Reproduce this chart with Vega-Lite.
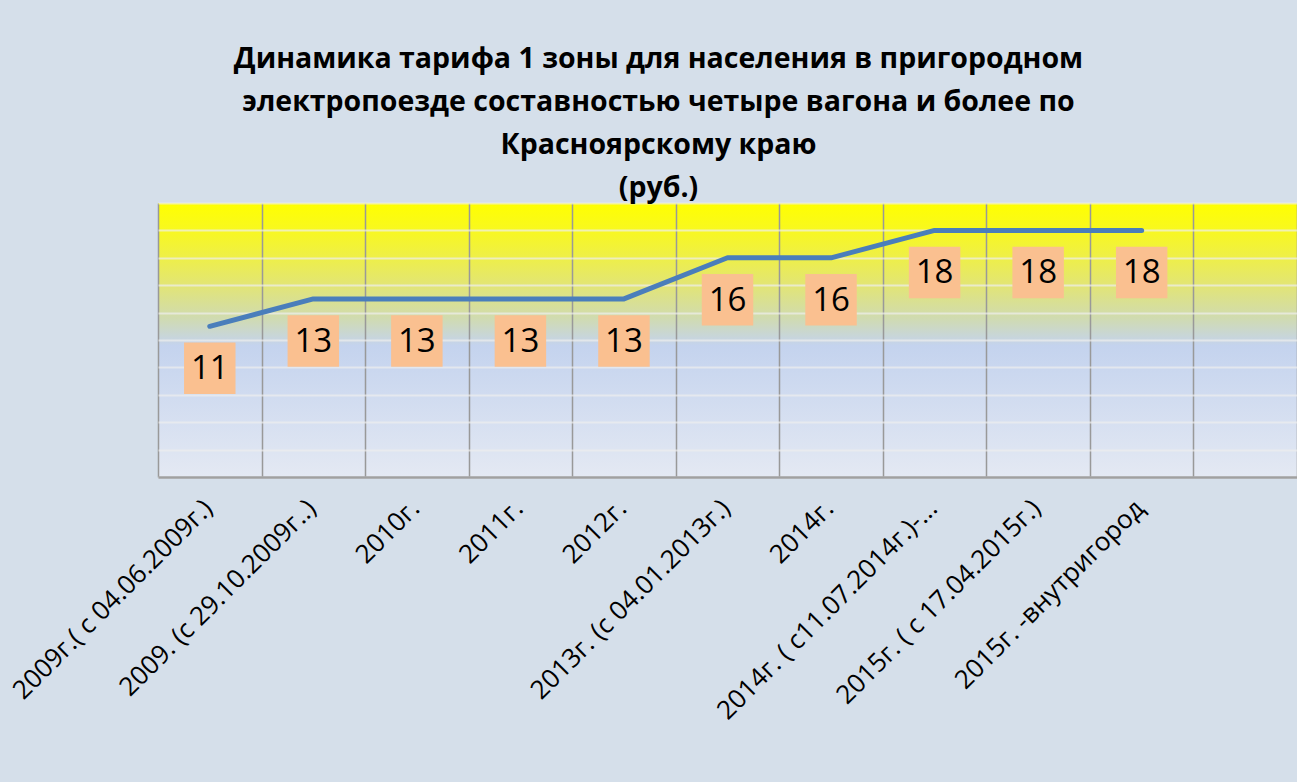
{
  "$schema": "https://vega.github.io/schema/vega-lite/v6.json",
  "width": 1139,
  "height": 274,
  "autosize": {"type": "none"},
  "padding": {"left": 158, "top": 203, "right": 0, "bottom": 305},
  "background": "#d5dfea",
  "config": {
    "font": "Open Sans",
    "view": {
      "stroke": null,
      "fill": {
        "gradient": "linear",
        "x1": 0, "y1": 0, "x2": 0, "y2": 1,
        "stops": [
          {"offset": 0, "color": "#ffff00"},
          {"offset": 0.1, "color": "#f8f820"},
          {"offset": 0.2, "color": "#eeef48"},
          {"offset": 0.3, "color": "#e2e575"},
          {"offset": 0.42, "color": "#d0dbb0"},
          {"offset": 0.52, "color": "#c4d3ee"},
          {"offset": 1, "color": "#e4e9f3"}
        ]
      }
    }
  },
  "title": {
    "text": [
      "Динамика тарифа 1 зоны для населения  в пригородном",
      "электропоезде составностью четыре вагона и более по",
      "Красноярскому краю",
      "(руб.)"
    ],
    "font": "Open Sans",
    "fontSize": 28.5,
    "fontWeight": "bold",
    "color": "#000000",
    "lineHeight": 43,
    "anchor": "middle",
    "frame": "group",
    "dx": -69,
    "offset": 1
  },
  "data": {
    "values": [
      {"period": "2009г.( с 04.06.2009г.)", "tariff": 11},
      {"period": "2009. (с 29.10.2009г..)", "tariff": 13},
      {"period": "2010г.", "tariff": 13},
      {"period": "2011г.", "tariff": 13},
      {"period": "2012г.", "tariff": 13},
      {"period": "2013г. (с 04.01.2013г.)", "tariff": 16},
      {"period": "2014г.", "tariff": 16},
      {"period": "2014г. ( с11.07.2014г.)-...", "tariff": 18},
      {"period": "2015г. ( с 17.04.2015г.)", "tariff": 18},
      {"period": "2015г. -внутригород", "tariff": 18},
      {"period": " ", "tariff": null}
    ]
  },
  "encoding": {
    "x": {
      "field": "period",
      "type": "nominal",
      "sort": null,
      "scale": {"paddingInner": 0, "paddingOuter": 0},
      "axis": {
        "title": null,
        "orient": "bottom",
        "labelAngle": -45,
        "labelAlign": "right",
        "labelBaseline": "middle",
        "labelFont": "Open Sans",
        "labelFontSize": 26,
        "labelColor": "#000000",
        "labelPadding": 27,
        "labelOffset": -2,
        "labelLimit": 0,
        "labelOverlap": false,
        "labelBound": false,
        "ticks": false,
        "tickBand": "extent",
        "domain": true,
        "domainColor": "#a0a0a0",
        "domainWidth": 2.5,
        "grid": true,
        "gridColor": "#999999",
        "gridWidth": 1.5
      }
    },
    "y": {
      "field": "tariff",
      "type": "quantitative",
      "scale": {"domain": [0, 20], "nice": false, "zero": true},
      "axis": {
        "title": null,
        "values": [0, 2, 4, 6, 8, 10, 12, 14, 16, 18, 20],
        "labels": false,
        "ticks": false,
        "domain": false,
        "grid": true,
        "gridColor": "#eeeeee",
        "gridOpacity": 0.7,
        "gridWidth": 2
      }
    }
  },
  "layer": [
    {
      "mark": {"type": "line", "color": "#4a7ebb", "strokeWidth": 5, "strokeCap": "round", "strokeJoin": "round"}
    },
    {
      "mark": {"type": "point", "shape": "square", "size": 2650, "filled": true, "fill": "#fac090", "opacity": 1, "strokeWidth": 0, "yOffset": 42}
    },
    {
      "mark": {"type": "text", "fontSize": 33, "font": "Open Sans", "color": "#000000", "baseline": "middle", "align": "center", "yOffset": 43},
      "encoding": {"text": {"field": "tariff", "type": "quantitative"}}
    }
  ]
}
